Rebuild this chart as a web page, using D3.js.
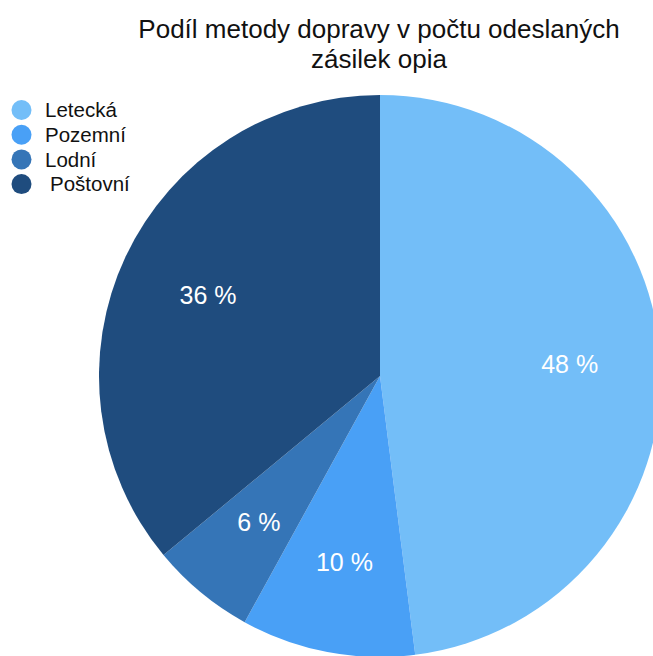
<!DOCTYPE html>
<html>
<head>
<meta charset="utf-8">
<script src="https://cdn.jsdelivr.net/npm/d3@7"></script>
<style>
  body { margin: 0; background: #fff; }
  svg { display: block; font-family: "Liberation Sans", Arial, sans-serif; }
</style>
</head>
<body>
<svg id="chart" width="653" height="656"></svg>
<script>
const categories = ['Letecká', 'Pozemní', 'Lodní', 'Poštovní'];
const shares = [48, 10, 6, 36];
const colors = ['#73bef8', '#49a0f6', '#3575b7', '#1f4c7e'];
const titleLines = ['Podíl metody dopravy v počtu odeslaných', 'zásilek opia'];

const svg = d3.select('#chart');
const cx = 380, cy = 376, radius = 281;

const data = categories.map((c, i) => ({name: c, value: shares[i], color: colors[i]}));

// title
svg.append('g')
    .selectAll('text')
    .data(titleLines)
    .join('text')
    .attr('x', 379)
    .attr('y', (d, i) => 38 + i * 30)
    .attr('text-anchor', 'middle')
    .attr('font-size', 26)
    .attr('fill', '#111')
    .text(d => d);

const pie = d3.pie().sort(null).value(d => d.value);
const arc = d3.arc().innerRadius(0).outerRadius(radius);
const labelArc = d3.arc().innerRadius(190).outerRadius(190);

const g = svg.append('g').attr('transform', `translate(${cx},${cy})`);

const arcs = pie(data);

g.selectAll('path')
    .data(arcs)
    .join('path')
    .attr('d', arc)
    .attr('fill', d => d.data.color);

g.selectAll('text')
    .data(arcs)
    .join('text')
    .attr('transform', d => `translate(${labelArc.centroid(d)})`)
    .attr('text-anchor', 'middle')
    .attr('dy', '0.35em')
    .attr('font-size', 25)
    .attr('fill', '#fff')
    .text(d => `${d.data.value} %`);

// legend
const legend = svg.append('g');
const item = legend.selectAll('g')
    .data(data)
    .join('g')
    .attr('transform', (d, i) => `translate(0,${110 + i * 24.7})`);

item.append('circle')
    .attr('cx', 21.5)
    .attr('r', 10)
    .attr('fill', d => d.color);

item.append('text')
    .attr('x', (d, i) => i === 3 ? 50 : 45)
    .attr('dy', '0.35em')
    .attr('font-size', 20.5)
    .attr('fill', '#111')
    .text(d => d.name);
</script>
</body>
</html>
